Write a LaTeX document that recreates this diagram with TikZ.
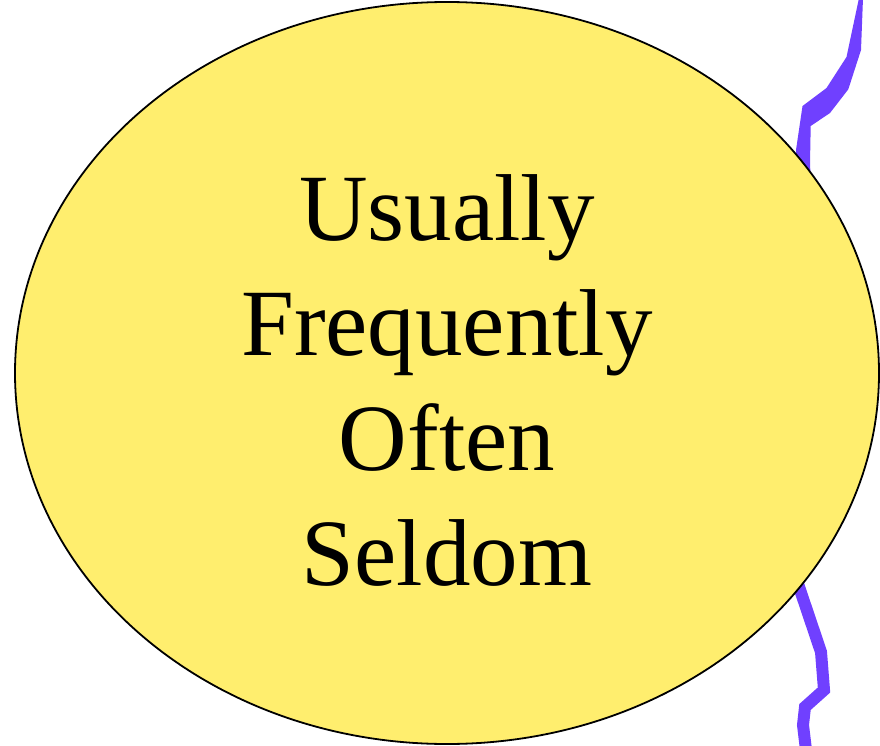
\documentclass[tikz,border=0pt]{standalone}
\usepackage{fontspec}
\setmainfont{Liberation Serif}
\usetikzlibrary{shapes.geometric}
\definecolor{bubble}{RGB}{255,238,110}
\definecolor{bolt}{RGB}{112,64,255}
\tikzset{
  word/.style={anchor=base, inner sep=0pt, font=\fontsize{95}{114}\selectfont},
  zig/.style={draw=bolt, line width=12pt, line join=miter},
  zigfill/.style={fill=bolt, draw=none},
  bubblenode/.style={draw=black, line width=1.8pt, fill=bubble, ellipse, inner sep=0pt, outer sep=0pt, minimum width=864pt, minimum height=742pt}
}
\begin{document}
\begin{tikzpicture}[x=1pt,y=-1pt]
\useasboundingbox (0,0) rectangle (880,746);
\fill[zigfill] (859,-2) -- (846.5,57) -- (826.5,88) -- (802.5,106) -- (796,150) -- (796,210)
  -- (812,210) -- (810,163) -- (810.7,126) -- (830,113) -- (848.3,89.3) -- (861,50) -- (863,-2) -- cycle;
\coordinate (b0) at (790,560);
\coordinate (b1) at (821,652);
\coordinate (b2) at (824,690);
\coordinate (b3) at (805,707);
\coordinate (b4) at (803,725);
\coordinate (b5) at (806,750);
\draw[zig] (b0) -- (b1) -- (b2) -- (b3) -- (b4) -- (b5);
\node (ell) [bubblenode] at (447,373) {};
\node[word] (w1) at (447,240) {Usually};
\node[word] (w2) at (447,355) {Frequently};
\node[word] (w3) at (447,470) {Often};
\node[word] (w4) at (447,585) {Seldom};
\end{tikzpicture}
\end{document}
